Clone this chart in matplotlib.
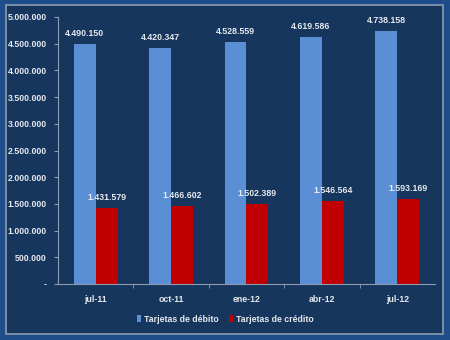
import matplotlib
matplotlib.use("Agg")
import matplotlib.pyplot as plt
from matplotlib.patches import Rectangle
import numpy as np

categories = ["jul-11", "oct-11", "ene-12", "abr-12", "jul-12"]
debito = [4490150, 4420347, 4528559, 4619586, 4738158]
credito = [1431579, 1466602, 1502389, 1546564, 1593169]
series_names = ["Tarjetas de débito", "Tarjetas de crédito"]
ytick_values = [0, 500000, 1000000, 1500000, 2000000, 2500000, 3000000,
                3500000, 4000000, 4500000, 5000000]
ytick_labels = ["-", "500.000", "1.000.000", "1.500.000", "2.000.000", "2.500.000",
                "3.000.000", "3.500.000", "4.000.000", "4.500.000", "5.000.000"]

FONT = ["Liberation Sans", "DejaVu Sans"]
plt.rcParams["font.family"] = FONT
FS = 6.3
TXT = "#e6e9ee"
BLUE = "#5a8fd6"
RED = "#c00000"
PANEL = "#17365d"
OUTER = "#1f4d8a"
EDGE = "#8d9cb2"

fig = plt.figure(figsize=(4.5, 3.4), dpi=100)
fig.patch.set_facecolor(OUTER)
fig.patches.append(Rectangle((6/450, 6/340), 437/450, 329/340, transform=fig.transFigure,
                             facecolor=PANEL, edgecolor=EDGE, linewidth=1.2, zorder=-10))

ax = fig.add_axes([58/450, 56/340, 377/450, 267/340])
ax.set_facecolor("none")
ax.set_zorder(1)

x = np.arange(len(categories))
w = 0.29
b1 = ax.bar(x - w/2, debito, w, color=BLUE, label=series_names[0], zorder=2)
b2 = ax.bar(x + w/2, credito, w, color=RED, label=series_names[1], zorder=2)

def fmt(v):
    return f"{v:,}".replace(",", ".")

for xi, v in zip(x - w/2, debito):
    ax.annotate(fmt(v), (xi, v), xytext=(0, 7.5), textcoords="offset points",
                ha="center", va="center", color=TXT, fontsize=FS, fontweight="bold")
for xi, v in zip(x + w/2, credito):
    ax.annotate(fmt(v), (xi, v), xytext=(0, 7.5), textcoords="offset points",
                ha="center", va="center", color=TXT, fontsize=FS, fontweight="bold")

ax.set_xlim(-0.5, len(categories) - 0.5)
ax.set_ylim(0, 5000000)
ax.set_yticks(ytick_values)
ax.set_yticklabels(ytick_labels)
ax.set_xticks(x)
ax.set_xticklabels(categories)
ax.set_xticks(np.arange(len(categories) - 1) + 0.5, minor=True)
ax.tick_params(axis="x", which="major", length=0, pad=8, labelsize=FS, labelcolor=TXT)
ax.tick_params(axis="x", which="minor", length=3, color=EDGE)
ax.tick_params(axis="y", length=3, color=EDGE, pad=5, labelsize=FS, labelcolor=TXT)
for lab in ax.get_xticklabels() + ax.get_yticklabels():
    lab.set_fontweight("bold")

for s in ["top", "right"]:
    ax.spines[s].set_visible(False)
for s in ["left", "bottom"]:
    ax.spines[s].set_color(EDGE)
    ax.spines[s].set_linewidth(0.8)

leg = fig.legend(handles=[b1, b2], labels=series_names, loc="center",
                 bbox_to_anchor=(0.5, 21/340), ncol=2, frameon=False,
                 handlelength=0.5, handleheight=0.9, handletextpad=0.3,
                 columnspacing=1.2, prop={"size": FS, "weight": "bold", "family": FONT})
for t in leg.get_texts():
    t.set_color(TXT)

fig.savefig("out.png", dpi=100, facecolor=fig.get_facecolor())
